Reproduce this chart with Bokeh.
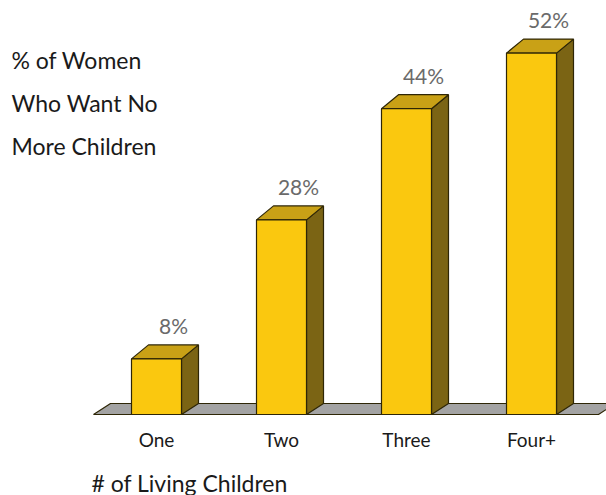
from bokeh.plotting import figure
from bokeh.models import ColumnDataSource, Range1d, Label
from bokeh.core.properties import value
from bokeh.embed import file_html
from bokeh.resources import INLINE

# ---- data ----
categories = ["One", "Two", "Three", "Four+"]
percent = [8, 28, 44, 52]
value_labels = ["8%", "28%", "44%", "52%"]
y_title_lines = ["% of Women", "Who Want No", "More Children"]
x_title = "# of Living Children"

# ---- layout (pixels) ----
W, H = 606, 495
PX_X = 125.0   # px per category step
PX_Y = 6.95    # px per percent point
X0_PX = 156.0  # px of first category centre
BASE_PX = 414.0  # px of 0 %

FONT = "Lato"
FRONT = "#FAC80F"
TOP = "#C9A116"
SIDE = "#7B6414"
EDGE = "#2E2606"
FLOOR = "#A3A3A3"

p = figure(width=W, height=H, output_backend="svg", toolbar_location=None,
           x_axis_location=None, y_axis_location=None, min_border=0,
           x_range=Range1d(-X0_PX / PX_X, (W - X0_PX) / PX_X),
           y_range=Range1d(-(H - BASE_PX) / PX_Y, BASE_PX / PX_Y))
p.grid.visible = False
p.outline_line_color = None
p.background_fill_color = "white"
p.border_fill_color = "white"

half = 25 / PX_X
dx = 17 / PX_X
dy = 14 / PX_Y
fdy = 11 / PX_Y

# floor
fx = [(93 - X0_PX) / PX_X, (110 - X0_PX) / PX_X, (615 - X0_PX) / PX_X, (598 - X0_PX) / PX_X]
fy = [0, fdy, fdy, 0]
p.patch(fx, fy, fill_color=FLOOR, line_color=EDGE, line_width=1.2)

xs_front, ys_front, xs_top, ys_top, xs_side, ys_side = [], [], [], [], [], []
for i, v in enumerate(percent):
    l, r = i - half, i + half
    xs_front.append([l, r, r, l]); ys_front.append([0, 0, v, v])
    xs_top.append([l, r, r + dx, l + dx]); ys_top.append([v, v, v + dy, v + dy])
    xs_side.append([r, r + dx, r + dx, r]); ys_side.append([0, fdy, v + dy, v])

p.patches(xs_side, ys_side, fill_color=SIDE, line_color=EDGE, line_width=1.2)
p.patches(xs_top, ys_top, fill_color=TOP, line_color=EDGE, line_width=1.2)
p.patches(xs_front, ys_front, fill_color=FRONT, line_color=EDGE, line_width=1.2)

src = ColumnDataSource(dict(
    x=[i + dx for i in range(len(percent))],
    y=[v + dy + 1.0 for v in percent],
    t=value_labels))
p.text("x", "y", text="t", source=src, text_align="center", text_baseline="bottom",
       text_font=value(FONT), text_font_size="21px", text_color="#6a6a6a")

csrc = ColumnDataSource(dict(x=list(range(len(categories))),
                             y=[-(439 - BASE_PX) / PX_Y] * len(categories),
                             t=categories))
p.text("x", "y", text="t", source=csrc, text_align="center", text_baseline="middle",
       text_font=value(FONT), text_font_size="19px", text_color="#1a1a1a")

for k, line in enumerate(y_title_lines):
    p.add_layout(Label(x=11, y=H - (59 + 43 * k), x_units="screen", y_units="screen",
                       text=line, text_font=FONT, text_font_size="23px",
                       text_color="#1a1a1a", text_baseline="middle"))

p.add_layout(Label(x=91, y=H - 482, x_units="screen", y_units="screen",
                   text=x_title, text_font=FONT, text_font_size="23px",
                   text_color="#1a1a1a", text_baseline="middle"))

open("out.html", "w").write(file_html(p, INLINE))
